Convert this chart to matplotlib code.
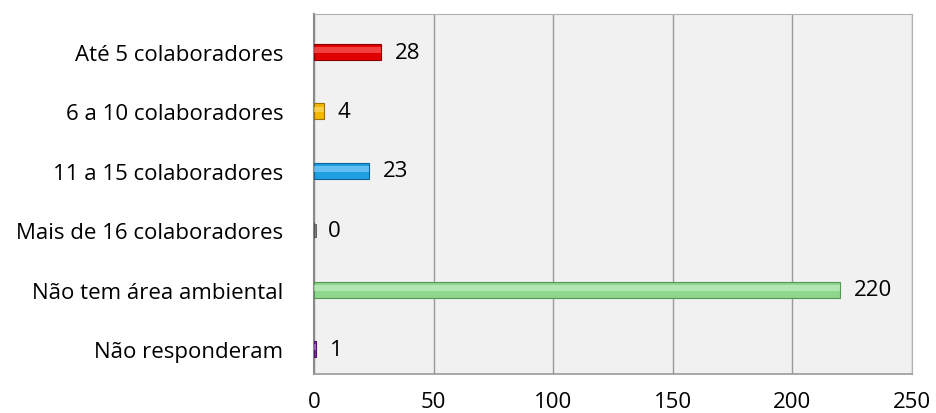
import matplotlib
matplotlib.use("Agg")
import matplotlib.pyplot as plt
import numpy as np

categories = ["Até 5 colaboradores", "6 a 10 colaboradores", "11 a 15 colaboradores",
              "Mais de 16 colaboradores", "Não tem área ambiental", "Não responderam"]
values = [28, 4, 23, 0, 220, 1]
colors = ["#e00000", "#f5b800", "#1f9fe0", "#7f7f7f", "#8fd68f", "#8a2fb8"]
highlights = ["#ff6a6a", "#ffe070", "#8fd4ff", "#c0c0c0", "#c8f0c8", "#c080e0"]
edges = ["#8a0000", "#a07000", "#10609a", "#505050", "#4f9a4f", "#50106a"]
xticks = [0, 50, 100, 150, 200, 250]

plt.rcParams['font.family'] = ['Open Sans', 'DejaVu Sans']

fig = plt.figure(figsize=(9.37, 4.14), dpi=100)
ax = fig.add_axes([314/937, 1-375/414, (912-314)/937, (375-15)/414])
ax.set_facecolor("#f1f1f1")

y = np.arange(len(categories))
bh = 0.27
ax.barh(y, values, height=bh, color=colors, edgecolor=edges, linewidth=0.8, zorder=3)
ax.barh(y - bh*0.12, values, height=bh*0.35, color=highlights, linewidth=0, alpha=0.6, zorder=4)
for yi, v, c, e in zip(y, values, colors, edges):
    if v == 0:
        ax.barh(yi, 0.8, height=bh*0.8, color=c, edgecolor=e, linewidth=0.6, zorder=3)

for yi, v in zip(y, values):
    ax.annotate(str(v), (v, yi), xytext=(10, 0), textcoords="offset points",
                va="center", ha="left", fontsize=16, color="black", zorder=5)

ax.set_xlim(0, 250)
ax.set_ylim(len(categories) - 1 + 0.42, -0.64)
ax.set_xticks(xticks)
ax.set_xticklabels([str(t) for t in xticks])
ax.set_yticks(y)
ax.set_yticklabels(categories)
ax.tick_params(axis="x", length=0, pad=12, labelsize=16)
ax.tick_params(axis="y", length=0, pad=22, labelsize=16)
ax.grid(axis="x", color="#9a9a9a", linewidth=1.0, zorder=1)
ax.spines["top"].set_color("#b0b0b0")
ax.spines["right"].set_color("#b0b0b0")
ax.spines["left"].set_color("#8a8a8a")
ax.spines["left"].set_linewidth(1.5)
ax.spines["bottom"].set_color("#9a9a9a")
ax.spines["bottom"].set_linewidth(1.2)

fig.savefig("out.png", dpi=100)
